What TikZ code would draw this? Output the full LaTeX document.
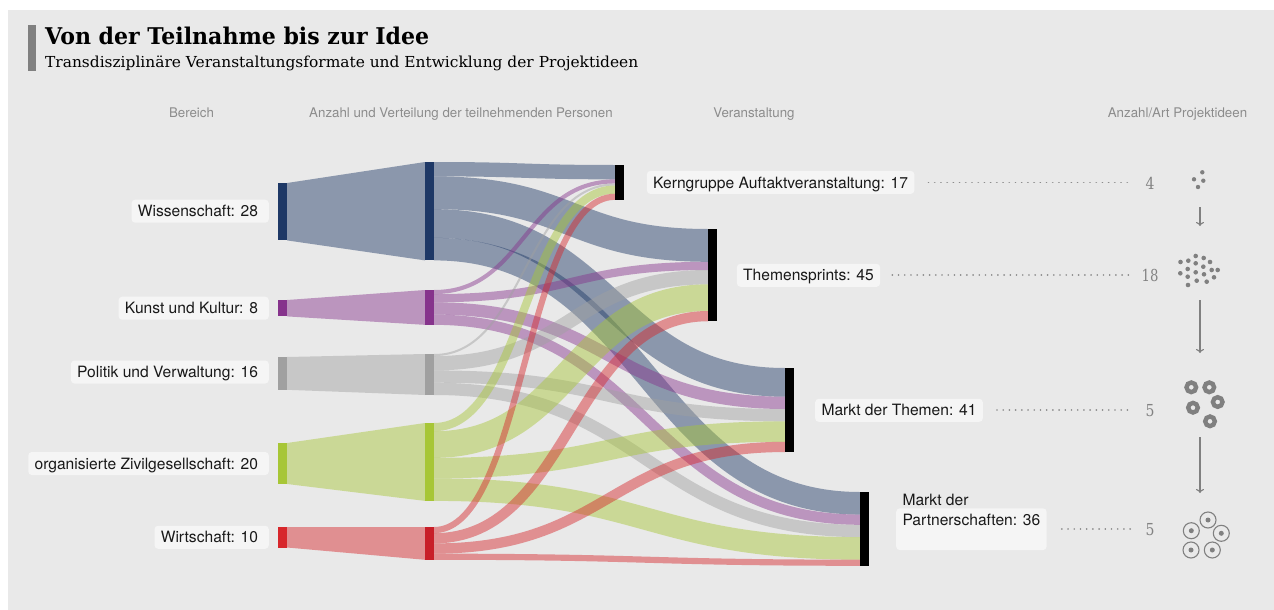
\documentclass[tikz,border=0pt]{standalone}
\usepackage{fontspec}
\usepackage{graphicx}
\setmainfont{TeX Gyre Heros}
\newfontfamily\titlefont{DejaVu Serif}
\usetikzlibrary{arrows.meta}
\definecolor{bgC}{RGB}{233,233,233}
\definecolor{boxC}{RGB}{245,245,245}
\definecolor{txtC}{RGB}{25,25,25}
\definecolor{hdrC}{RGB}{140,140,140}
\definecolor{dotC}{RGB}{140,140,140}
\definecolor{numC}{RGB}{130,130,130}
\definecolor{iconC}{RGB}{128,128,128}
\definecolor{wC}{RGB}{30,56,102}
\definecolor{kC}{RGB}{134,51,140}
\definecolor{pC}{RGB}{160,160,160}
\definecolor{zC}{RGB}{167,198,54}
\definecolor{rC}{RGB}{215,38,43}
\definecolor{rmC}{RGB}{200,30,40}
\newcommand\lk[5]{\draw[flow,#1,line width=#5pt] (434,#2) .. controls ({(434+#3)/2},#2) and ({(434+#3)/2},#4) .. (#3,#4);}
\begin{document}
\begin{tikzpicture}[x=1pt,y=-1pt,
  bar/.style={inner sep=0pt, minimum width=9pt, draw=none},
  lbl/.style={fill=boxC, rounded corners=3.5pt, inner xsep=6.3pt, inner ysep=0pt, minimum height=23pt, text height=11.2pt, text depth=0pt, font=\fontsize{15.6}{19.3}\selectfont, text=txtC},
  hdr/.style={font=\fontsize{13.3}{15}\selectfont, text=hdrC, anchor=base, inner sep=0pt},
  flow/.style={opacity=.46, line cap=butt},
  dotline/.style={draw=dotC, line width=1.8pt, dash pattern=on 0.01pt off 6.2pt, line cap=round},
  num/.style={font=\titlefont\fontsize{16.5}{18}\selectfont, text=numC, inner sep=0pt},
  idea/.style={-{To[length=4pt,width=8pt]}, draw=iconC, line width=1.1pt},
  ring/.style={draw=iconC, line width=4.4pt},
  target/.style={draw=iconC, line width=1.1pt}
]
\useasboundingbox (0,0) rectangle (1274,610);
\fill[white] (0,0) rectangle (1274,610);
\fill[bgC] (8,10) rectangle (1274,610);

% title
\fill[iconC] (28,25) rectangle (36,71);
\node[anchor=base west, inner sep=0pt] (title) at (45,44.3) {\resizebox{384pt}{17.5pt}{\titlefont\bfseries Von der Teilnahme bis zur Idee}};
\node[anchor=base west, inner sep=0pt] (subtitle) at (45,68) {\resizebox{593pt}{11.6pt}{\titlefont Transdisziplinäre Veranstaltungsformate und Entwicklung der Projektideen}};

% headers
\node[hdr] (h1) at (191.5,117.5) {Bereich};
\node[hdr] (h2) at (461,117.5) {Anzahl und Verteilung der teilnehmenden Personen};
\node[hdr] (h3) at (754,117.5) {Veranstaltung};
\node[hdr] (h4) at (1177.5,117.5) {Anzahl/Art Projektideen};

% left -> middle
\fill[flow,wC] (287,183) -- (425,162) -- (425,260.4) -- (287,240.4) -- cycle;
\fill[flow,kC] (287,300) -- (425,290) -- (425,324.85) -- (287,316.4) -- cycle;
\fill[flow,pC] (287,357) -- (425,354) -- (425,395) -- (287,389.8) -- cycle;
\fill[flow,zC] (287,443) -- (425,423) -- (425,500.9) -- (287,484) -- cycle;
\fill[flow,rC] (287,527) -- (425,527) -- (425,559.8) -- (287,547.5) -- cycle;

% middle -> events
\lk{wC}{169.175}{615}{172.175}{14.35}
\lk{wC}{192.75}{708}{245.4}{32.8}
\lk{wC}{223.5}{785}{382.35}{28.7}
\lk{wC}{249.125}{860}{503.275}{22.55}
\lk{kC}{292.05}{615}{181.4}{4.1}
\lk{kC}{298.2}{708}{265.9}{8.2}
\lk{kC}{308.45}{785}{402.85}{12.3}
\lk{kC}{319.725}{860}{519.675}{10.25}
\lk{pC}{355.025}{615}{184.475}{2.05}
\lk{pC}{363.225}{708}{277.175}{14.35}
\lk{pC}{376.55}{785}{415.15}{12.3}
\lk{pC}{388.85}{860}{530.95}{12.3}
\lk{zC}{427.1}{615}{189.6}{8.2}
\lk{zC}{444.525}{708}{297.675}{26.65}
\lk{zC}{468.1}{785}{431.55}{20.5}
\lk{zC}{489.625}{860}{548.375}{22.55}
\lk{rC}{530.075}{615}{196.775}{6.15}
\lk{rC}{538.275}{708}{316.125}{10.25}
\lk{rC}{548.525}{785}{446.925}{10.25}
\lk{rC}{556.725}{860}{562.725}{6.15}

% bars
\node[bar, fill=wC, minimum height=57.4pt] (lW) at (282.5,211.7) {};
\node[bar, fill=kC, minimum height=16.4pt] (lK) at (282.5,308.2) {};
\node[bar, fill=pC, minimum height=32.8pt] (lP) at (282.5,373.4) {};
\node[bar, fill=zC, minimum height=41pt] (lZ) at (282.5,463.5) {};
\node[bar, fill=rC, minimum height=20.5pt] (lR) at (282.5,537.25) {};
\node[bar, fill=wC, minimum height=98.4pt] (mW) at (429.5,211.2) {};
\node[bar, fill=kC, minimum height=34.85pt] (mK) at (429.5,307.425) {};
\node[bar, fill=pC, minimum height=41pt] (mP) at (429.5,374.5) {};
\node[bar, fill=zC, minimum height=77.9pt] (mZ) at (429.5,461.95) {};
\node[bar, fill=rmC, minimum height=32.8pt] (mR) at (429.5,543.4) {};
\node[bar, fill=black, minimum height=34.85pt] (eK) at (619.5,182.425) {};
\node[bar, fill=black, minimum height=92.25pt] (eT) at (712.5,275.125) {};
\node[bar, fill=black, minimum height=84.05pt] (eM) at (789.5,410.025) {};
\node[bar, fill=black, minimum height=73.8pt] (eP) at (864.5,528.9) {};

% left labels
\node[lbl, anchor=east] (wL) at (269,211.2) {Wissenschaft: 28\kern4.5pt};
\node[lbl, anchor=east] (kuL) at (269,308.2) {Kunst und Kultur: 8\kern4.5pt};
\node[lbl, anchor=east] (poL) at (269,372) {Politik und Verwaltung: 16\kern4.5pt};
\node[lbl, anchor=east] (ziL) at (269,463.5) {organisierte Zivilgesellschaft: 20\kern4.5pt};
\node[lbl, anchor=east] (wiL) at (269,537.25) {Wirtschaft: 10\kern4.5pt};

% event labels
\node[lbl, anchor=west] (kL) at (646.7,182.4) {Kerngruppe Auftaktveranstaltung: 17};
\node[lbl, anchor=west] (tL) at (736.7,275.3) {Themensprints: 45};
\node[lbl, anchor=west] (mL) at (815,410.3) {Markt der Themen: 41};
\node[lbl, anchor=west, align=left, text depth=19.3pt, minimum height=41.7pt] (pL) at (896,529.2) {Markt der\\Partnerschaften: 36};

% dotted leaders and numbers
\coordinate (dend) at (1133,0);
\draw[dotline] ([xshift=14pt]kL.east) -- (kL.east -| dend);
\draw[dotline] ([xshift=12pt]tL.east) -- (tL.east -| dend);
\draw[dotline] ([xshift=14pt]mL.east) -- (mL.east -| dend);
\draw[dotline] ([xshift=15pt]pL.east) -- (pL.east -| dend);
\node[num] (n1) at (1150,183.3) {\scalebox{0.85}[1]{4}};
\node[num] (n2) at (1150,275.3) {\scalebox{0.8}[1]{18}};
\node[num] (n3) at (1150,410.3) {\scalebox{0.85}[1]{5}};
\node[num] (n4) at (1150,530) {\scalebox{0.85}[1]{5}};

% icons
\foreach \p in {(1202.3,172.3),(1194,179.3),(1203.3,180.7),(1198,187)}
  \fill[iconC] \p circle (2.2);
\foreach \p in {(1195.7,256),(1203.7,258),(1188.3,260.7),(1210,262),(1195.7,263.3),(1203.3,266.7),(1187.7,269),(1211.7,270),(1217.7,270),(1195.7,272.3),(1180.3,273.3),(1204,274.3),(1187.7,276.7),(1214,277.3),(1196.7,280.7),(1206.7,281.7),(1188,285),(1180.5,262)}
  \fill[iconC] \p circle (2.3);
\foreach \p in {(1191.3,387.3),(1209.3,387.3),(1217.7,402),(1193,407.7),(1210,421.3)}
  \draw[ring] \p circle (4.8);
\foreach \p in {(1208,520),(1191.3,530.7),(1221.3,533.3),(1191,550),(1212.3,550)}
  {\draw[target] \p circle (8); \fill[iconC] \p circle (2.5);}
\coordinate (a1s) at (1200,207); \coordinate (a1e) at (1200,226);
\coordinate (a2s) at (1200,300); \coordinate (a2e) at (1200,353);
\coordinate (a3s) at (1200,437); \coordinate (a3e) at (1200,493);
\draw[idea] (a1s) -- (a1e);
\draw[idea] (a2s) -- (a2e);
\draw[idea] (a3s) -- (a3e);
\end{tikzpicture}
\end{document}
